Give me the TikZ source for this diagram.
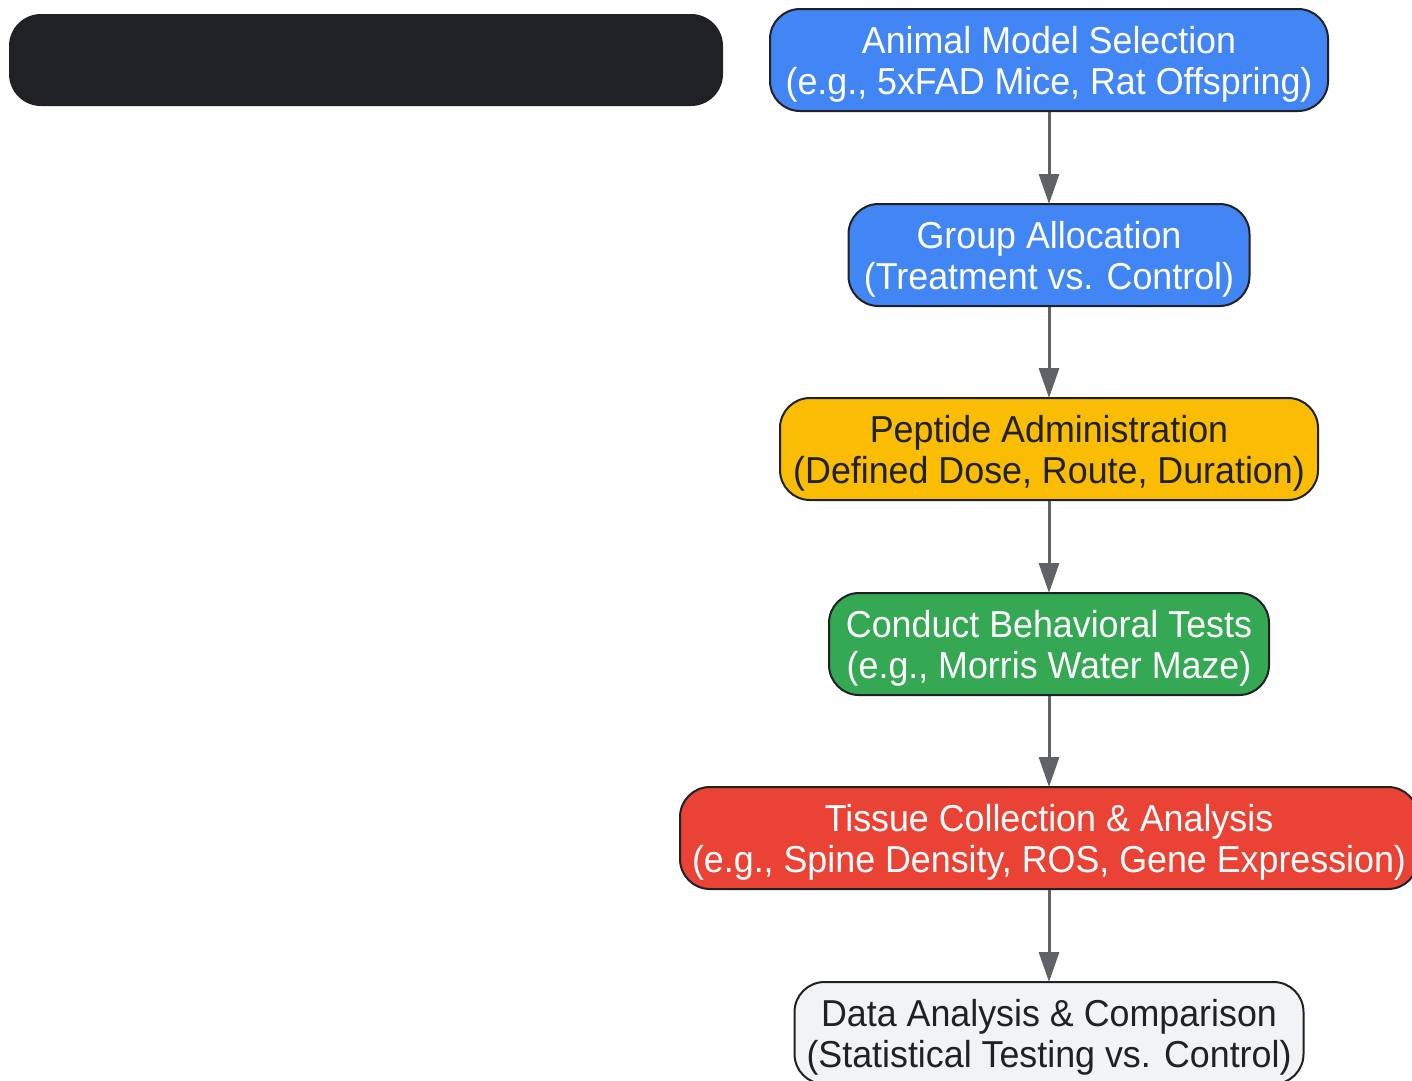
\documentclass[tikz,border=0pt]{standalone}
\usepackage{fontspec}
\setmainfont{Liberation Sans}[FakeStretch=0.955]
\usetikzlibrary{arrows.meta}
\definecolor{gblue}{HTML}{4285F4}
\definecolor{gyellow}{HTML}{FBBC04}
\definecolor{ggreen}{HTML}{34A853}
\definecolor{gred}{HTML}{EA4335}
\definecolor{ggrey}{HTML}{F1F3F4}
\definecolor{gdark}{HTML}{202124}
\definecolor{garrow}{HTML}{5F6368}
\tikzset{
  stepbox/.style={draw=gdark, line width=2pt, rounded corners=30pt, align=center,
    minimum height=102pt, inner sep=0pt,
    font=\fontsize{37.5}{41}\selectfont, text depth=-2pt},
  flow/.style={draw=garrow, line width=3pt, -{Triangle[length=30pt,width=20pt]}, shorten >=-1pt},
}
\begin{document}
\begin{tikzpicture}[x=1pt,y=-1pt]
\useasboundingbox (0,0) rectangle (1412,1080);
\clip (0,0) rectangle (1412,1080);
\fill[white] (0,0) rectangle (1412,1080);
\node[fill=gdark, rounded corners=32pt, minimum width=714pt, minimum height=92pt, inner sep=0pt] (title) at (366,60) {};
\node[stepbox, fill=gblue, text=white, minimum width=558pt] (a) at (1049,60) {Animal Model Selection\\(e.g., 5xFAD Mice, Rat Offspring)};
\node[stepbox, fill=gblue, text=white, minimum width=401pt] (b) at (1049,255) {Group Allocation\\(Treatment vs. Control)};
\node[stepbox, fill=gyellow, text=gdark, minimum width=538pt] (c) at (1049,449) {Peptide Administration\\(Defined Dose, Route, Duration)};
\node[stepbox, fill=ggreen, text=white, minimum width=440pt] (d) at (1049,644) {Conduct Behavioral Tests\\(e.g., Morris Water Maze)};
\node[stepbox, fill=gred, text=white, minimum width=738pt] (e) at (1049,838) {Tissue Collection \& Analysis\\(e.g., Spine Density, ROS, Gene Expression)};
\node[stepbox, fill=ggrey, text=gdark, minimum width=509pt] (f) at (1049,1033) {Data Analysis \& Comparison\\(Statistical Testing vs. Control)};
\draw[flow] (a) -- (b);
\draw[flow] (b) -- (c);
\draw[flow] (c) -- (d);
\draw[flow] (d) -- (e);
\draw[flow] (e) -- (f);
\end{tikzpicture}
\end{document}
